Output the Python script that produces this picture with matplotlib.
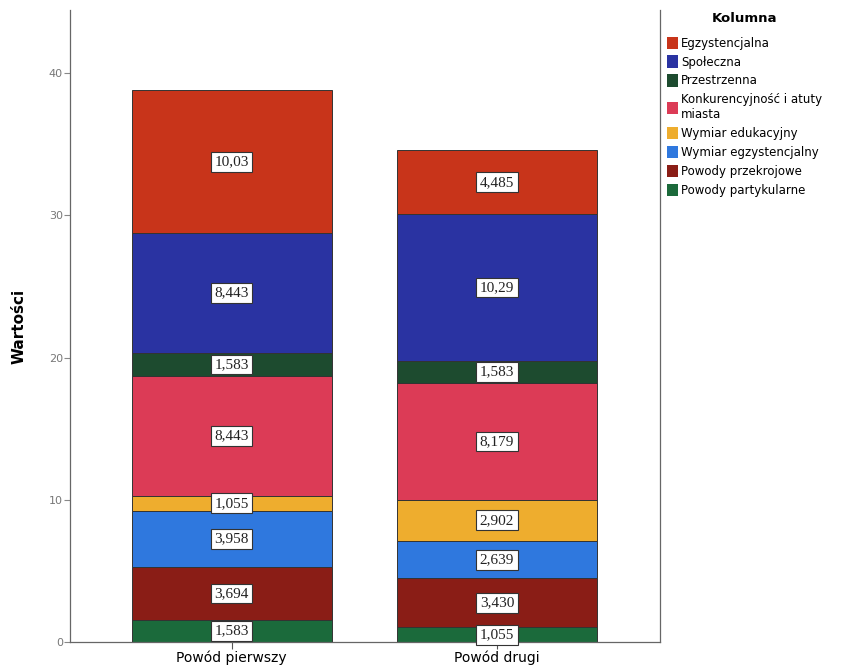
import numpy as np
import matplotlib.pyplot as plt
from matplotlib.patches import Patch

categories = ['Powód pierwszy', 'Powód drugi']

# series listed bottom -> top of the stack
series = ['Powody partykularne', 'Powody przekrojowe', 'Wymiar egzystencjalny',
          'Wymiar edukacyjny', 'Konkurencyjność i atuty\nmiasta', 'Przestrzenna',
          'Społeczna', 'Egzystencjalna']
values_first = [1.583, 3.694, 3.958, 1.055, 8.443, 1.583, 8.443, 10.03]
values_second = [1.055, 3.430, 2.639, 2.902, 8.179, 1.583, 10.29, 4.485]
labels_first = ['1,583', '3,694', '3,958', '1,055', '8,443', '1,583', '8,443', '10,03']
labels_second = ['1,055', '3,430', '2,639', '2,902', '8,179', '1,583', '10,29', '4,485']

colors = ['#1b6a3b', '#8a1d16', '#2f78de', '#eead2e', '#dc3b56',
          '#1d4b2f', '#2a33a2', '#c8341a']

fig = plt.figure(figsize=(8.43, 6.69), dpi=100)
ax = fig.add_axes([0.083, 0.040, 0.700, 0.945])

x = np.arange(len(categories))
width = 0.755
bottoms = np.zeros(len(categories))
for i, name in enumerate(series):
    vals = np.array([values_first[i], values_second[i]])
    bars = ax.bar(x, vals, width, bottom=bottoms, color=colors[i],
                  edgecolor='#333333', linewidth=0.7)
    for j, b in enumerate(bars):
        txt = [labels_first, labels_second][j][i]
        ax.text(b.get_x() + b.get_width() / 2, bottoms[j] + vals[j] / 2, txt,
                ha='center', va='center', fontsize=11, family='Liberation Serif',
                color='#222222',
                bbox=dict(boxstyle='square,pad=0.22', fc='white', ec='#333333', lw=0.8))
    bottoms += vals

ax.set_xlim(-0.61, 1.615)
ax.set_ylim(0, 44.43)
ax.set_xticks(x)
ax.set_xticklabels(categories, fontsize=10)
ax.set_yticks([0, 10, 20, 30, 40])
ax.tick_params(axis='y', labelsize=8, colors='#888888', length=4, width=0.8, pad=1)
ax.tick_params(axis='x', length=5, width=0.8, color='#555555', pad=1)
for lab in ax.get_yticklabels():
    lab.set_color('#777777')
ax.set_ylabel('Wartości', fontsize=11, fontweight='bold', labelpad=16)

ax.spines['top'].set_visible(False)
for s in ['left', 'bottom', 'right']:
    ax.spines[s].set_color('#666666')
    ax.spines[s].set_linewidth(0.9)

handles = [Patch(facecolor=colors[i], edgecolor='none') for i in range(len(series))][::-1]
leg = fig.legend(handles, series[::-1], title='Kolumna', loc='upper left',
                 bbox_to_anchor=(0.783, 0.992), frameon=False, fontsize=8.5,
                 title_fontproperties={'weight': 'bold', 'size': 9.5},
                 handlelength=0.9, handleheight=1.2, handletextpad=0.3,
                 labelspacing=0.5, borderaxespad=0.2)
leg._legend_box.align = 'center'
leg._legend_box.sep = 8

fig.savefig('out.png', dpi=100)
